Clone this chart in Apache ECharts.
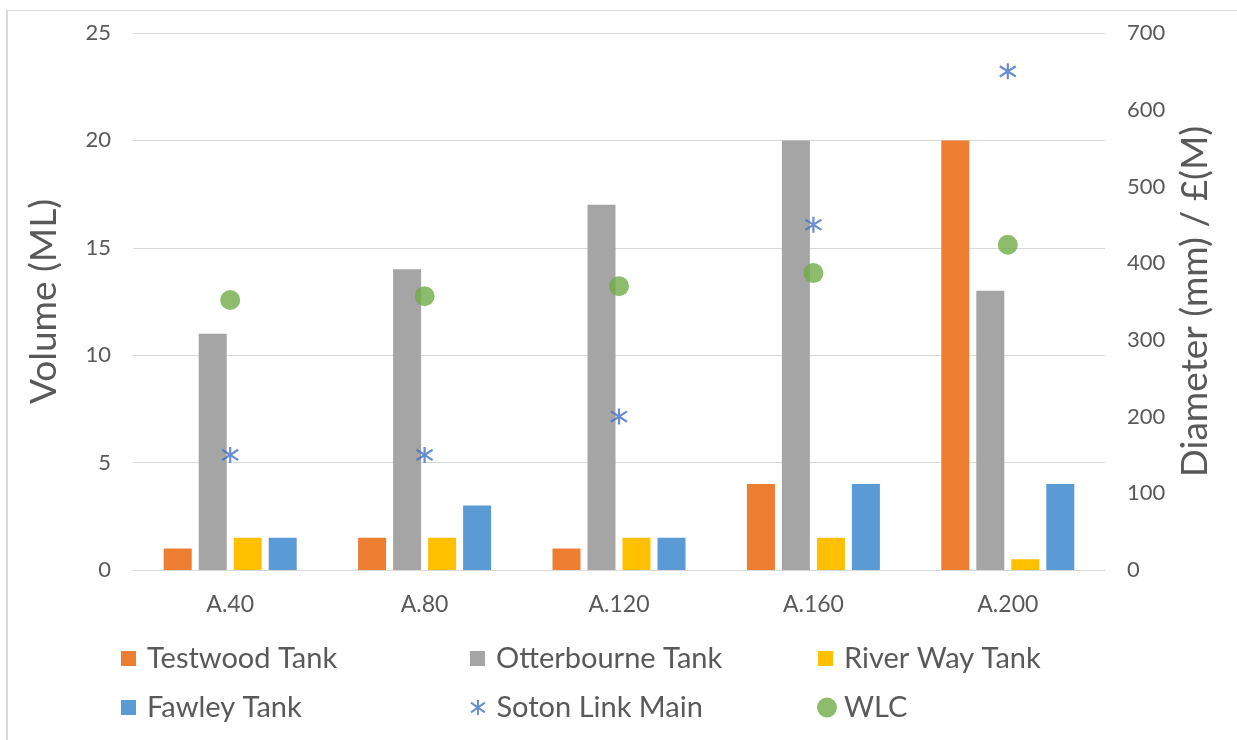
<!DOCTYPE html>
<html>
<head>
<meta charset="utf-8">
<title>Tank volumes, link main diameter and WLC</title>
<script src="https://cdn.jsdelivr.net/npm/echarts@6/dist/echarts.min.js"></script>
<style>
  html, body { margin: 0; padding: 0; background: #fff; }
  #chart { width: 1237px; height: 740px; }
</style>
</head>
<body>
<div id="chart"></div>
<script>
// Options compared along the x axis
const categories = ['A.40', 'A.80', 'A.120', 'A.160', 'A.200'];

// Tank volumes (ML), left axis
const testwoodTank = [1, 1.5, 1, 4, 20];
const otterbourneTank = [11, 14, 17, 20, 13];
const riverWayTank = [1.5, 1.5, 1.5, 1.5, 0.5];
const fawleyTank = [1.5, 3, 1.5, 4, 4];

// Right axis: main diameter (mm) and whole-life cost (£M)
const sotonLinkMain = [150, 150, 200, 450, 650];
const wlc = [352, 357, 370, 387, 424];

const FONT = 'Lato, "Open Sans", sans-serif';
const TEXT = '#595959';
const GRID_LINE = '#D9D9D9';
// Six-armed star marker: vertical stroke plus an X
const STAR = 'path://M7,0L7,14M0.5,2.5L13.5,11.5M0.5,11.5L13.5,2.5';

const colors = {
  'Testwood Tank': '#ED7D31',
  'Otterbourne Tank': '#A5A5A5',
  'River Way Tank': '#FFC000',
  'Fawley Tank': '#5B9BD5',
  'Soton Link Main': '#4472C4',
  'WLC': '#70AD47'
};

function barSeries(name, data) {
  return {
    name: name,
    type: 'bar',
    yAxisIndex: 0,
    data: data,
    barWidth: 28,
    barGap: '25%',
    itemStyle: { color: colors[name] },
    emphasis: { disabled: true }
  };
}

// One legend block per entry so the entries sit in a fixed 3-column grid
function legendAt(name, left, top, icon, w, h, gap, itemStyle) {
  return {
    data: [{ name: name, icon: icon, itemStyle: itemStyle }],
    left: left,
    top: top,
    padding: 0,
    itemWidth: w,
    itemHeight: h,
    selectedMode: false,
    textStyle: {
      fontFamily: FONT,
      fontSize: 29,
      color: TEXT,
      padding: [0, 0, 0, gap]
    }
  };
}

const chart = echarts.init(document.getElementById('chart'), null, { renderer: 'canvas' });

chart.setOption({
  backgroundColor: '#ffffff',
  animation: false,
  textStyle: { fontFamily: FONT },
  graphic: [
    { type: 'line', shape: { x1: 7, y1: 10.5, x2: 1237, y2: 10.5 }, style: { stroke: GRID_LINE, lineWidth: 1 } },
    { type: 'line', shape: { x1: 7, y1: 10, x2: 7, y2: 740 }, style: { stroke: GRID_LINE, lineWidth: 2 } }
  ],
  grid: { left: 133, right: 132, top: 33, bottom: 170, containLabel: false },
  legend: [
    legendAt('Testwood Tank', 121, 644, 'rect', 15, 15, 6),
    legendAt('Otterbourne Tank', 470, 644, 'rect', 15, 15, 6),
    legendAt('River Way Tank', 818, 644, 'rect', 15, 15, 6),
    legendAt('Fawley Tank', 121, 693, 'rect', 15, 15, 6),
    legendAt('Soton Link Main', 470, 693, STAR, 15, 15, 6,
      { color: 'rgba(0,0,0,0)', borderColor: colors['Soton Link Main'], borderWidth: 2 }),
    legendAt('WLC', 817, 693, 'circle', 20, 20, 2)
  ],
  xAxis: {
    type: 'category',
    data: categories,
    axisLine: { lineStyle: { color: GRID_LINE, width: 1 } },
    axisTick: { show: false },
    axisLabel: { color: TEXT, fontSize: 23, fontFamily: FONT, margin: 23 }
  },
  yAxis: [
    {
      type: 'value',
      min: 0,
      max: 25,
      interval: 5,
      name: 'Volume (ML)',
      nameLocation: 'middle',
      nameRotate: 90,
      nameGap: 70,
      nameTextStyle: { color: TEXT, fontSize: 37, fontFamily: FONT },
      axisLine: { show: false },
      axisTick: { show: false },
      axisLabel: { color: TEXT, fontSize: 22, fontFamily: FONT, margin: 22 },
      splitLine: { show: true, lineStyle: { color: GRID_LINE, width: 1 } }
    },
    {
      type: 'value',
      min: 0,
      max: 700,
      interval: 100,
      position: 'right',
      name: 'Diameter (mm) / £(M)',
      nameLocation: 'middle',
      nameRotate: 90,
      nameGap: 72,
      nameTextStyle: { color: TEXT, fontSize: 37, fontFamily: FONT },
      axisLine: { show: false },
      axisTick: { show: false },
      axisLabel: { color: TEXT, fontSize: 22, fontFamily: FONT, margin: 22 },
      splitLine: { show: false }
    }
  ],
  series: [
    barSeries('Testwood Tank', testwoodTank),
    barSeries('Otterbourne Tank', otterbourneTank),
    barSeries('River Way Tank', riverWayTank),
    barSeries('Fawley Tank', fawleyTank),
    {
      name: 'Soton Link Main',
      type: 'scatter',
      yAxisIndex: 1,
      data: sotonLinkMain,
      symbol: STAR,
      symbolSize: [16, 16],
      z: 5,
      itemStyle: { color: 'rgba(0,0,0,0)', borderColor: colors['Soton Link Main'], borderWidth: 2.2 },
      emphasis: { disabled: true }
    },
    {
      name: 'WLC',
      type: 'scatter',
      yAxisIndex: 1,
      data: wlc,
      symbol: 'circle',
      symbolSize: 20,
      z: 5,
      itemStyle: { color: colors['WLC'] },
      emphasis: { disabled: true }
    }
  ]
});
</script>
</body>
</html>
